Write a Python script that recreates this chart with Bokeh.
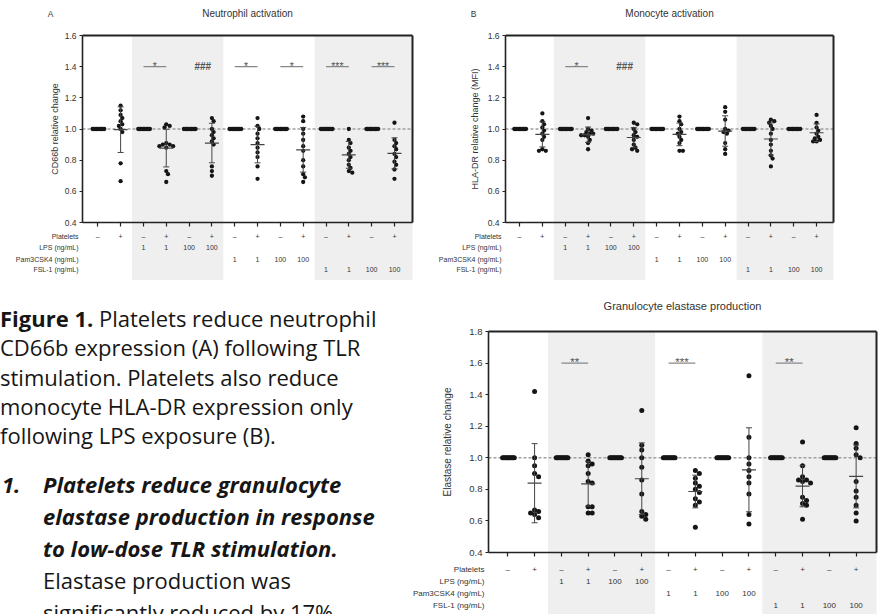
import numpy as np
from bokeh.plotting import figure
from bokeh.models import Range1d, LinearAxis, FixedTicker, BoxAnnotation, Div, NumeralTickFormatter
from bokeh.layouts import row, column
from bokeh.embed import file_html
from bokeh.resources import INLINE
from bokeh.core.properties import value

# ---------------- shared categories / tick labels ----------------
platelets_row = ["–", "+", "–", "+", "–", "+", "–", "+", "–", "+", "–", "+", "–", "+"]
lps_row = ["", "", "1", "1", "100", "100", "", "", "", "", "", "", "", ""]
pam_row = ["", "", "", "", "", "", "1", "1", "100", "100", "", "", "", ""]
fsl_row = ["", "", "", "", "", "", "", "", "", "", "1", "1", "100", "100"]
table_rows = [platelets_row, lps_row, pam_row, fsl_row]
row_labels = ["Platelets", "LPS (ng/mL)", "Pam3CSK4 (ng/mL)", "FSL-1 (ng/mL)"]
y_ticks_ab = [0.4, 0.6, 0.8, 1.0, 1.2, 1.4, 1.6]
y_ticks_c = [0.4, 0.6, 0.8, 1.0, 1.2, 1.4, 1.6, 1.8]

# ---------------- Panel A: CD66b (neutrophil activation) ----------------
a_minus = [1.0, 1.0, 1.0, 1.0, 1.0, 1.0, 1.0, 1.0, 1.0, 1.0]
a_none = [1.15, 1.12, 1.09, 1.07, 1.05, 1.03, 1.02, 1.00, 0.98, 0.78, 0.665]
a_lps1 = [1.03, 1.02, 1.01, 0.91, 0.90, 0.90, 0.89, 0.89, 0.88, 0.73, 0.71, 0.66]
a_lps100 = [1.07, 1.05, 1.00, 0.98, 0.96, 0.94, 0.92, 0.90, 0.76, 0.73, 0.70]
a_pam1 = [1.07, 1.02, 1.00, 0.97, 0.94, 0.91, 0.88, 0.85, 0.82, 0.76, 0.68]
a_pam100 = [1.08, 1.05, 1.00, 0.97, 0.93, 0.89, 0.86, 0.80, 0.76, 0.71, 0.69, 0.66]
a_fsl1 = [1.00, 0.93, 0.91, 0.88, 0.86, 0.84, 0.82, 0.80, 0.77, 0.75, 0.73, 0.72]
a_fsl100 = [1.04, 0.93, 0.91, 0.89, 0.87, 0.84, 0.82, 0.79, 0.77, 0.74, 0.68]
a_sig = [(2, 3, "*"), (4, 5, "###"), (6, 7, "*"), (8, 9, "*"), (10, 11, "***"), (12, 13, "***")]

# ---------------- Panel B: HLA-DR (monocyte activation) ----------------
b_minus = [1.0, 1.0, 1.0, 1.0, 1.0, 1.0, 1.0, 1.0, 1.0, 1.0]
b_none = [1.10, 1.05, 1.03, 1.01, 0.99, 0.97, 0.95, 0.93, 0.87, 0.86, 0.86]
b_lps1 = [1.07, 1.00, 0.99, 0.98, 0.97, 0.97, 0.96, 0.96, 0.95, 0.93, 0.91, 0.87]
b_lps100 = [1.04, 1.03, 1.00, 0.98, 0.96, 0.95, 0.93, 0.90, 0.88, 0.87, 0.86]
b_pam1 = [1.08, 1.05, 1.03, 1.00, 0.98, 0.97, 0.95, 0.93, 0.91, 0.86, 0.86]
b_pam100 = [1.14, 1.11, 1.06, 1.00, 0.99, 0.98, 0.97, 0.91, 0.87, 0.84]
b_fsl1 = [1.06, 1.05, 1.04, 1.02, 1.00, 0.97, 0.93, 0.90, 0.86, 0.83, 0.81, 0.76]
b_fsl100 = [1.09, 1.04, 1.01, 0.99, 0.97, 0.95, 0.94, 0.93, 0.92, 0.92]
b_sig = [(2, 3, "*"), (4, 5, "###")]

# ---------------- Panel C: granulocyte elastase ----------------
c_minus = [1.0, 1.0, 1.0, 1.0, 1.0, 1.0, 1.0, 1.0, 1.0, 1.0]
c_none = [1.42, 1.00, 0.95, 0.90, 0.88, 0.67, 0.66, 0.65, 0.64, 0.62]
c_lps1 = [1.02, 0.98, 0.96, 0.95, 0.90, 0.85, 0.84, 0.69, 0.69, 0.65, 0.65]
c_lps100 = [1.30, 1.08, 1.05, 1.00, 0.94, 0.86, 0.77, 0.66, 0.64, 0.63, 0.61]
c_pam1 = [0.92, 0.90, 0.87, 0.84, 0.82, 0.80, 0.78, 0.74, 0.72, 0.70, 0.56]
c_pam100 = [1.52, 1.13, 1.00, 0.96, 0.92, 0.88, 0.84, 0.77, 0.64, 0.58]
c_fsl1 = [1.10, 0.95, 0.88, 0.86, 0.86, 0.85, 0.84, 0.75, 0.73, 0.71, 0.70, 0.61]
c_fsl100 = [1.19, 1.09, 1.06, 1.02, 1.00, 0.85, 0.79, 0.75, 0.70, 0.65, 0.60]
c_sig = [(2, 3, "**"), (6, 7, "***"), (10, 11, "**")]

FONT = "Liberation Sans"
INK = "#151515"
TXT = "#333333"


def swarm(vals, ppx, ppy, d):
    placed, out = [], []
    for v in vals:
        k = 0
        while True:
            cands = [0.0] if k == 0 else [k * d * 0.5, -k * d * 0.5]
            hit = None
            for c in cands:
                if all((c - px) ** 2 + ((v - pv) * ppy) ** 2 >= d * d - 1e-9 for px, pv in placed):
                    hit = c
                    break
            if hit is not None:
                placed.append((hit, v))
                out.append(hit / ppx)
                break
            k += 1
    return out


def panel(minus, plus_groups, sig, sig_level, title, letter, ylabel, yticks,
          width, height, box_px, xs, xe, fs, tfs, dot, row_off, title_dy, label_standoff):
    # box_px: plot area (left, top, right, bottom) in pixels inside the figure
    L, T, R, B = box_px
    y0, y1 = yticks[0], yticks[-1]
    ppx = (R - L) / (xe - xs)
    ppy = (B - T) / (y1 - y0)
    x_range = Range1d(xs - L / ppx, xe + (width - R) / ppx)
    y_range = Range1d(y0 - (height - B) / ppy, y1 + T / ppy)

    p = figure(width=width, height=height, x_range=x_range, y_range=y_range,
               output_backend="svg", toolbar_location=None,
               x_axis_location=None, y_axis_location=None,
               min_border=0)
    p.outline_line_color = None
    p.grid.visible = False

    # shaded stimulus blocks
    p.add_layout(BoxAnnotation(left=1.5, right=5.5, top=y1, fill_color="#efefef", fill_alpha=1,
                               line_color=None, level="underlay"))
    p.add_layout(BoxAnnotation(left=9.5, right=xe, top=y1, fill_color="#efefef", fill_alpha=1,
                               line_color=None, level="underlay"))
    # reference line at 1.0
    p.segment(x0=[xs], x1=[xe], y0=[1.0], y1=[1.0], line_color="#a0a0a0",
              line_dash="3 2", line_width=1.6)

    # axes
    yax = LinearAxis(fixed_location=xs, bounds=(y0, y1), ticker=FixedTicker(ticks=yticks),
                     formatter=NumeralTickFormatter(format="0.0"), axis_label=ylabel)
    yax.major_tick_out = 3
    yax.major_tick_in = 0
    yax.minor_tick_out = 0
    yax.minor_tick_in = 0
    yax.axis_line_width = 1.6
    yax.axis_line_color = "#222"
    yax.major_tick_line_color = "#222"
    yax.major_label_text_font = FONT
    yax.major_label_text_font_size = f"{fs}px"
    yax.major_label_text_color = TXT
    yax.major_label_standoff = 3
    yax.axis_label_text_font = FONT
    yax.axis_label_text_font_size = f"{fs + 0.5}px"
    yax.axis_label_text_font_style = "normal"
    yax.axis_label_text_color = TXT
    yax.axis_label_standoff = label_standoff
    p.add_layout(yax, "left")

    xax = LinearAxis(fixed_location=y0, bounds=(xs, xe), ticker=FixedTicker(ticks=list(range(14))))
    xax.major_label_text_color = None
    xax.major_tick_out = 4
    xax.major_tick_in = 0
    xax.minor_tick_out = 0
    xax.minor_tick_in = 0
    xax.axis_line_width = 1.6
    xax.axis_line_color = "#222"
    xax.major_tick_line_color = "#222"
    xax.major_tick_line_width = 1.2
    p.add_layout(xax, "below")

    top = LinearAxis(fixed_location=y1, bounds=(xs, xe), ticker=FixedTicker(ticks=[]))
    top.major_label_text_color = None
    top.axis_line_width = 2
    top.axis_line_color = "#222"
    p.add_layout(top, "above")

    right = LinearAxis(fixed_location=xe, bounds=(y0, y1), ticker=FixedTicker(ticks=[]))
    right.major_label_text_color = None
    right.axis_line_width = 2
    right.axis_line_color = "#222"
    p.add_layout(right, "right")

    # points
    px_, py_ = [], []
    mx, mm, ms = [], [], []
    for k, vals in enumerate(plus_groups):
        for gi, vv, dd in ((2 * k, minus, 1.3), (2 * k + 1, vals, dot * 0.8)):
            offs = swarm(vv, ppx, ppy, dd)
            px_ += [gi + o for o in offs]
            py_ += list(vv)
        mx.append(2 * k + 1)
        mm.append(float(np.mean(vals)))
        ms.append(float(np.std(vals, ddof=1)))
    p.scatter(px_, py_, size=dot, color=INK, line_width=0)

    mw = 7.0 / ppx
    cw = 3.0 / ppx
    mx = np.array(mx, dtype=float)
    mm = np.array(mm)
    ms = np.array(ms)
    p.segment(x0=mx, x1=mx, y0=mm - ms, y1=mm + ms, line_color="#444", line_width=1)
    p.segment(x0=mx - mw, x1=mx + mw, y0=mm, y1=mm, line_color="#444", line_width=1.2)
    p.segment(x0=mx - cw, x1=mx + cw, y0=mm - ms, y1=mm - ms, line_color="#444", line_width=1)
    p.segment(x0=mx - cw, x1=mx + cw, y0=mm + ms, y1=mm + ms, line_color="#444", line_width=1)

    # significance markers
    for a, b, t in sig:
        if t.startswith("#"):
            p.text(x=[(a + b) / 2 + 0.1], y=[sig_level], text=[t], text_align="center",
                   text_baseline="middle", text_font=value(FONT), text_font_style="bold",
                   text_font_size=f"{fs + 1.5}px", text_color="#555")
        else:
            p.segment(x0=[a], x1=[b], y0=[sig_level], y1=[sig_level], line_color="#888", line_width=1.2)
            p.text(x=[(a + b) / 2], y=[sig_level], text=[t], text_align="center",
                   text_baseline="alphabetic", y_offset=-1, text_font=value(FONT),
                   text_font_size=f"{fs + 2}px", text_color="#555")

    # condition table below the axis
    for r, (lab, vals) in enumerate(zip(row_labels, table_rows)):
        idx = [i for i, s in enumerate(vals) if s]
        p.text(x=idx, y=[y0] * len(idx), text=[vals[i] for i in idx], y_offset=row_off[r],
               text_align="center", text_baseline="middle", text_font=value(FONT),
               text_font_size=f"{tfs}px", text_color=TXT)
        p.text(x=[xs], y=[y0], text=[lab], x_offset=-4, y_offset=row_off[r],
               text_align="right", text_baseline="middle", text_font=value(FONT),
               text_font_size=f"{tfs}px", text_color=TXT)

    # panel title and letter
    p.text(x=[(xs + xe) / 2], y=[y1], text=[title], y_offset=-title_dy, text_align="center",
           text_baseline="middle", text_font=value(FONT), text_font_size=f"{fs + 1.5}px",
           text_color=TXT)
    if letter:
        p.text(x=[xs], y=[y1], text=[letter], x_offset=-32, y_offset=-title_dy,
               text_align="center", text_baseline="middle", text_font=value(FONT),
               text_font_size=f"{fs}px", text_color=TXT)
    return p


# top row: panel A x 0..414, panel B x 414..880; bottom row: text 0..400, panel C 400..880
pA = panel(a_minus, [a_none, a_lps1, a_lps100, a_pam1, a_pam100, a_fsl1, a_fsl100], a_sig, 1.4,
           "Neutrophil activation", "A", "CD66b relative change", y_ticks_ab,
           414, 280, (82, 35, 412, 222), -0.67, 13.79, 8.5, 7, 4.3, [14, 25, 36.5, 47], 22, 2)
pB = panel(b_minus, [b_none, b_lps1, b_lps100, b_pam1, b_pam100, b_fsl1, b_fsl100], b_sig, 1.4,
           "Monocyte activation", "B", "HLA-DR relative change (MFI)", y_ticks_ab,
           466, 280, (91, 35, 419, 222), -0.613, 13.74, 8.5, 7, 4.3, [14, 25, 36.5, 47], 22, 5)
pC = panel(c_minus, [c_none, c_lps1, c_lps100, c_pam1, c_pam100, c_fsl1, c_fsl100], c_sig, 1.6,
           "Granulocyte elastase production", None, "Elastase relative change", y_ticks_c,
           480, 334, (88, 51, 476, 272), -0.72, 13.76, 9.5, 8, 5.0, [17, 29, 41, 53], 26, 13)

text_html = """
<div style="font-family:'Open Sans'; font-size:22px; color:#161616; width:400px; height:334px;
            overflow:hidden; white-space:nowrap;">
  <div style="padding-top:24px; line-height:29.3px;">
    <b>Figure 1.</b> Platelets reduce neutrophil<br>CD66b expression (A) following TLR<br>
    stimulation. Platelets also reduce<br>monocyte HLA-DR expression only<br>
    following LPS exposure (B).
  </div>
  <div style="position:relative; margin-top:18px; line-height:32px;">
    <span style="position:absolute; left:2px; top:0; font-weight:700; font-style:italic;">1.</span>
    <div style="margin-left:43px;">
      <span style="font-weight:700; font-style:italic;">Platelets reduce granulocyte<br>
      elastase production in response<br>to low-dose TLR stimulation.</span><br>
      Elastase production was<br>significantly reduced by 17%-
    </div>
  </div>
</div>
"""
div = Div(text=text_html, width=400, height=334, margin=0)

layout = column(row(pA, pB), row(div, pC))
open("out.html", "w").write(file_html(layout, INLINE))
